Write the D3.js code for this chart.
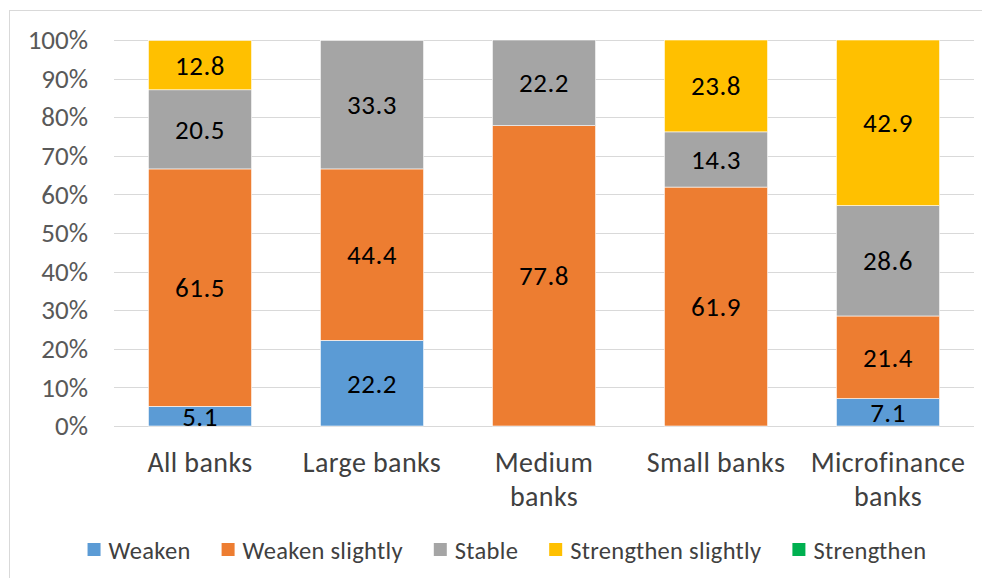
<!DOCTYPE html>
<html>
<head>
<meta charset="utf-8">
<script src="https://cdn.jsdelivr.net/npm/d3@7"></script>
<style>
  body { margin: 0; background: #fff; }
  svg { font-family: Carlito, Lato, "Liberation Sans", sans-serif; }
</style>
</head>
<body>
<svg id="chart" width="982" height="578"></svg>
<script>
// categories and series
var categories = [["All banks"], ["Large banks"], ["Medium", "banks"], ["Small banks"], ["Microfinance", "banks"]];
var seriesNames = ["Weaken", "Weaken slightly", "Stable", "Strengthen slightly", "Strengthen"];
var colors = ["#5B9BD5", "#ED7D31", "#A5A5A5", "#FFC000", "#00B050"];

var weaken             = [5.1, 22.2, 0, 0, 7.1];
var weakenSlightly     = [61.5, 44.4, 77.8, 61.9, 21.4];
var stable             = [20.5, 33.3, 22.2, 14.3, 28.6];
var strengthenSlightly = [12.8, 0, 0, 23.8, 42.9];
var strengthen         = [0, 0, 0, 0, 0];

var yTicks = [0, 10, 20, 30, 40, 50, 60, 70, 80, 90, 100];

var allSeries = [weaken, weakenSlightly, stable, strengthenSlightly, strengthen];

// dimensions
var margin = {top: 40, right: 8, bottom: 152, left: 114},
    width = 982 - margin.left - margin.right,
    height = 578 - margin.top - margin.bottom;

var svg = d3.select("#chart");

// chart border
svg.append("rect")
  .attr("x", 9.5).attr("y", 10.5)
  .attr("width", 990).attr("height", 600)
  .attr("fill", "none")
  .attr("stroke", "#d9d9d9");

var g = svg.append("g")
  .attr("transform", "translate(" + margin.left + "," + margin.top + ")");

var x = d3.scaleBand()
  .domain(d3.range(categories.length))
  .range([0, width])
  .paddingInner(0.4)
  .paddingOuter(0.2);

var y = d3.scaleLinear()
  .domain([0, 100])
  .range([height, 0]);

// gridlines
g.selectAll(".grid")
  .data(yTicks)
  .enter().append("line")
    .attr("x1", 0).attr("x2", width)
    .attr("y1", d => Math.round(y(d)) + 0.5)
    .attr("y2", d => Math.round(y(d)) + 0.5)
    .attr("stroke", "#d9d9d9")
    .attr("stroke-width", 1);

// y axis labels
var yAxis = g.append("g")
  .call(d3.axisLeft(y).tickValues(yTicks).tickSize(0).tickPadding(26).tickFormat(d => d + "%"));
yAxis.select(".domain").remove();
yAxis.attr("font-size", null).attr("font-family", null);
yAxis.selectAll("text")
  .style("font-size", "27px")
  .attr("fill", "#595959");

// stack the data
var rows = categories.map(function(c, i) {
  var r = {i: i};
  seriesNames.forEach(function(s, k) { r[s] = allSeries[k][i]; });
  return r;
});
var stacked = d3.stack().keys(seriesNames)(rows);

var layers = g.selectAll(".layer")
  .data(stacked)
  .enter().append("g")
    .attr("fill", (d, k) => colors[k]);

layers.selectAll("rect")
  .data(d => d.filter(p => p[1] - p[0] > 0))
  .enter().append("rect")
    .attr("x", d => x(d.data.i))
    .attr("y", d => y(d[1]))
    .attr("width", x.bandwidth())
    .attr("height", d => y(d[0]) - y(d[1]))
    .attr("stroke", "#fff")
    .attr("stroke-width", 0.6);

// data labels
layers.selectAll("text")
  .data(d => d.filter(p => p[1] - p[0] > 0))
  .enter().append("text")
    .attr("x", d => x(d.data.i) + x.bandwidth() / 2)
    .attr("y", d => (y(d[0]) + y(d[1])) / 2)
    .attr("dy", "0.35em")
    .attr("text-anchor", "middle")
    .attr("fill", "#000")
    .style("font-size", "27px")
    .style("letter-spacing", "0.5px")
    .text(d => (d[1] - d[0]).toFixed(1));

// category labels
var cat = g.selectAll(".cat")
  .data(categories)
  .enter().append("text")
    .attr("text-anchor", "middle")
    .attr("fill", "#404040")
    .style("font-size", "28px")
    .style("letter-spacing", "0.4px")
    .attr("transform", (d, i) => "translate(" + (x(i) + x.bandwidth() / 2) + "," + (height + 46) + ")");
cat.selectAll("tspan")
  .data(d => d)
  .enter().append("tspan")
    .attr("x", 0)
    .attr("dy", (d, j) => j == 0 ? 0 : 34)
    .text(d => d);

// legend
var legend = svg.append("g").attr("transform", "translate(0,550)");
var items = legend.selectAll("g")
  .data(seriesNames)
  .enter().append("g");
items.append("rect")
  .attr("y", -7).attr("width", 13).attr("height", 13)
  .attr("fill", (d, k) => colors[k]);
items.append("text")
  .attr("x", 21).attr("dy", "0.35em")
  .attr("fill", "#404040")
  .style("font-size", "24.5px")
  .style("letter-spacing", "0.3px")
  .text(d => d);

var widths = [];
items.each(function() { widths.push(this.getBBox().width); });
var gap = 31;
var total = d3.sum(widths) + gap * (widths.length - 1);
var xpos = 507 - total / 2;
items.attr("transform", function(d, k) {
  var t = "translate(" + xpos + ",0)";
  xpos += widths[k] + gap;
  return t;
});
</script>
</body>
</html>
